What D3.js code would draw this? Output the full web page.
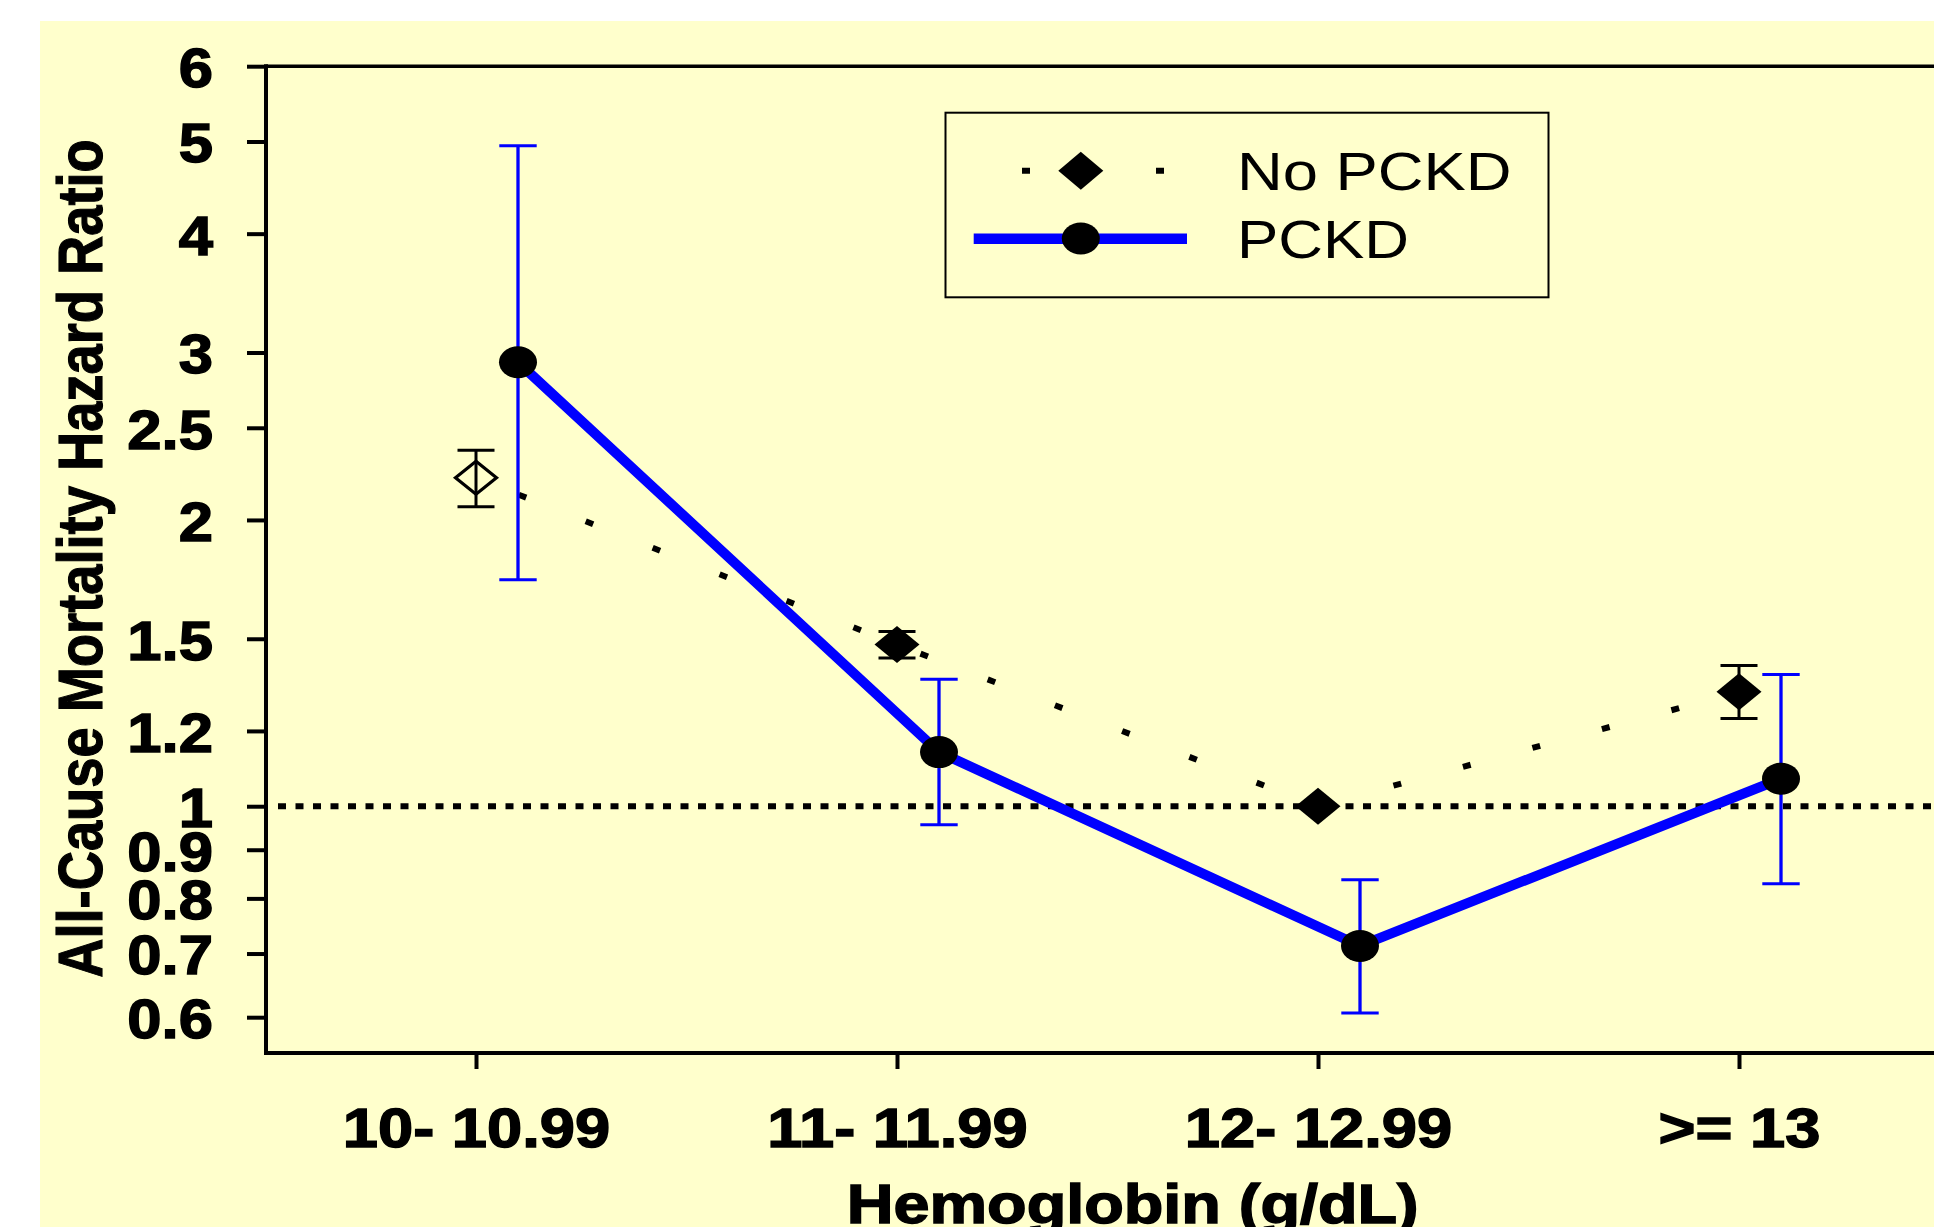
<!DOCTYPE html>
<html>
<head>
<meta charset="utf-8">
<script src="https://cdn.jsdelivr.net/npm/d3@7"></script>
<style>
  html, body { margin: 0; padding: 0; background: #ffffff; }
  svg { display: block; }
  text { font-family: "Liberation Sans", Arial, Helvetica, sans-serif; }
</style>
</head>
<body>
<script>
// ---------------- data ----------------
const categories = ["10- 10.99", "11- 11.99", "12- 12.99", ">= 13"];
const pckdHR    = [2.93, 1.14, 0.713, 1.069];
const pckdLower = [1.73, 0.956, 0.606, 0.829];
const pckdUpper = [4.95, 1.36, 0.837, 1.376];
const noPckdHR    = [2.215, 1.479, 1.0, 1.319];
const noPckdLower = [2.065, 1.432, null, 1.237];
const noPckdUpper = [2.367, 1.527, null, 1.406];
const yTicks = [0.6, 0.7, 0.8, 0.9, 1, 1.2, 1.5, 2, 2.5, 3, 4, 5, 6];
const seriesNames = ["No PCKD", "PCKD"];
const yTitle = "All-Cause Mortality Hazard Ratio";
const xTitle = "Hemoglobin (g/dL)";

// ---------------- layout ----------------
const W = 1934, H = 1227;
const axisX = 266, axisTop = 66.2, axisBottomY = 1053;
const pckdOffset = 42;
const openMarkerIndex = 0;
const BLUE = "#0000ff", BG = "#ffffcc";
const HEAVY = 1.4; // extra stroke to thicken bold text

const svg = d3.select("body").append("svg").attr("width", W).attr("height", H);
svg.append("rect").attr("width", W).attr("height", H).attr("fill", "#fff");
svg.append("rect").attr("x", 40).attr("y", 21).attr("width", W - 40).attr("height", H - 21).attr("fill", BG);

const x = d3.scalePoint().domain(categories).range([476, 1739]);
const y = d3.scaleLog().domain([0.6, 6]).range([1017.2, axisTop]);

function stretch(sel, k) {
  sel.each(function () {
    const l = this.getComputedTextLength();
    d3.select(this).attr("textLength", l * k).attr("lengthAdjust", "spacingAndGlyphs");
  });
}

// ---------------- axes ----------------
const yAxis = d3.axisLeft(y).tickValues(yTicks).tickFormat(d => String(d)).tickSize(19).tickPadding(34);
const gy = svg.append("g").attr("transform", `translate(${axisX},0)`).call(yAxis);
gy.select(".domain").remove();
gy.selectAll(".tick line").attr("stroke", "#000").attr("stroke-width", 4);
gy.selectAll(".tick text").attr("font-size", 55).attr("font-weight", "bold").attr("fill", "#000")
  .attr("stroke", "#000").attr("stroke-width", HEAVY)
  .attr("font-family", "'Liberation Sans', Arial, sans-serif").attr("dy", "0.37em").call(stretch, 1.12);

const xAxis = d3.axisBottom(x).tickSize(16).tickPadding(39);
const gx = svg.append("g").attr("transform", `translate(0,${axisBottomY})`).call(xAxis);
gx.select(".domain").remove();
gx.selectAll(".tick line").attr("stroke", "#000").attr("stroke-width", 4);
gx.selectAll(".tick text").attr("font-size", 55).attr("font-weight", "bold").attr("fill", "#000")
  .attr("stroke", "#000").attr("stroke-width", HEAVY)
  .attr("font-family", "'Liberation Sans', Arial, sans-serif").call(stretch, 1.15);

// frame lines
svg.append("line").attr("x1", axisX).attr("x2", axisX).attr("y1", axisTop - 2).attr("y2", axisBottomY + 2)
  .attr("stroke", "#000").attr("stroke-width", 4);
svg.append("line").attr("x1", axisX).attr("x2", W).attr("y1", axisTop).attr("y2", axisTop)
  .attr("stroke", "#000").attr("stroke-width", 3.5);
svg.append("line").attr("x1", axisX).attr("x2", W).attr("y1", axisBottomY).attr("y2", axisBottomY)
  .attr("stroke", "#000").attr("stroke-width", 4);

// titles
svg.append("text").attr("transform", `translate(102,558.5) scale(1.17,1) rotate(-90)`)
  .attr("text-anchor", "middle").attr("font-size", 54.3).attr("font-weight", "bold")
  .attr("stroke", "#000").attr("stroke-width", 1).text(yTitle);
svg.append("text").attr("x", 846.7).attr("y", 1223).attr("font-size", 55).attr("font-weight", "bold")
  .attr("stroke", "#000").attr("stroke-width", HEAVY)
  .attr("textLength", 572).attr("lengthAdjust", "spacingAndGlyphs").text(xTitle);

// reference line at HR = 1
svg.append("line").attr("x1", 278).attr("x2", W).attr("y1", y(1)).attr("y2", y(1))
  .attr("stroke", "#000").attr("stroke-width", 6).attr("stroke-dasharray", "8,9.5");

// ---------------- No PCKD ----------------
const noIdx = d3.range(categories.length);
svg.append("path")
  .attr("d", d3.line().x(i => x(categories[i])).y(i => y(noPckdHR[i]))(noIdx))
  .attr("fill", "none").attr("stroke", "#000").attr("stroke-width", 6)
  .attr("stroke-dasharray", "8,64").attr("stroke-dashoffset", 26);

function diamondPath(cx, cy, hw, hh) {
  return `M${cx},${cy - hh}L${cx + hw},${cy}L${cx},${cy + hh}L${cx - hw},${cy}Z`;
}
noIdx.forEach(i => {
  const cx = x(categories[i]), cy = y(noPckdHR[i]);
  const open = i === openMarkerIndex;
  svg.append("path").attr("d", open ? diamondPath(cx, cy, 20.5, 16.5) : diamondPath(cx, cy, 22.5, 18.5))
    .attr("fill", open ? BG : "#000").attr("stroke", "#000").attr("stroke-width", open ? 3.2 : 0);
  if (noPckdLower[i] != null) {
    const g = svg.append("g").attr("stroke", "#000").attr("stroke-width", 3);
    g.append("line").attr("x1", cx).attr("x2", cx).attr("y1", y(noPckdUpper[i])).attr("y2", y(noPckdLower[i]));
    [noPckdUpper[i], noPckdLower[i]].forEach(v =>
      g.append("line").attr("x1", cx - 18.5).attr("x2", cx + 18.5).attr("y1", y(v)).attr("y2", y(v)));
  }
});

// ---------------- PCKD ----------------
noIdx.forEach(i => {
  const cx = x(categories[i]) + pckdOffset;
  const g = svg.append("g").attr("stroke", BLUE);
  g.append("line").attr("x1", cx).attr("x2", cx).attr("y1", y(pckdUpper[i])).attr("y2", y(pckdLower[i]))
    .attr("stroke-width", 3.3);
  [pckdUpper[i], pckdLower[i]].forEach(v =>
    g.append("line").attr("x1", cx - 18.7).attr("x2", cx + 18.7).attr("y1", y(v)).attr("y2", y(v))
      .attr("stroke-width", 3));
});
svg.append("path")
  .attr("d", d3.line().x(i => x(categories[i]) + pckdOffset).y(i => y(pckdHR[i]))(noIdx))
  .attr("fill", "none").attr("stroke", BLUE).attr("stroke-width", 10).attr("stroke-linejoin", "miter");
noIdx.forEach(i => {
  svg.append("ellipse").attr("cx", x(categories[i]) + pckdOffset).attr("cy", y(pckdHR[i]))
    .attr("rx", 19).attr("ry", 16).attr("fill", "#000");
});

// ---------------- legend ----------------
const lg = svg.append("g");
lg.append("rect").attr("x", 945.5).attr("y", 112.7).attr("width", 603).attr("height", 184.6)
  .attr("fill", "none").attr("stroke", "#000").attr("stroke-width", 2);
lg.append("line").attr("x1", 1022).attr("x2", 1164).attr("y1", 170.7).attr("y2", 170.7)
  .attr("stroke", "#000").attr("stroke-width", 6).attr("stroke-dasharray", "8,59");
lg.append("path").attr("d", diamondPath(1080.8, 170.7, 22.5, 19)).attr("fill", "#000");
lg.append("line").attr("x1", 973.7).attr("x2", 1187).attr("y1", 238.7).attr("y2", 238.7)
  .attr("stroke", BLUE).attr("stroke-width", 10.5);
lg.append("ellipse").attr("cx", 1080.8).attr("cy", 238.5).attr("rx", 19).attr("ry", 16).attr("fill", "#000");
lg.append("text").attr("x", 1237).attr("y", 190).attr("font-size", 53.5)
  .attr("textLength", 274.6).attr("lengthAdjust", "spacingAndGlyphs").text(seriesNames[0]);
lg.append("text").attr("x", 1237).attr("y", 257.7).attr("font-size", 53.5)
  .attr("textLength", 172).attr("lengthAdjust", "spacingAndGlyphs").text(seriesNames[1]);
</script>
</body>
</html>
